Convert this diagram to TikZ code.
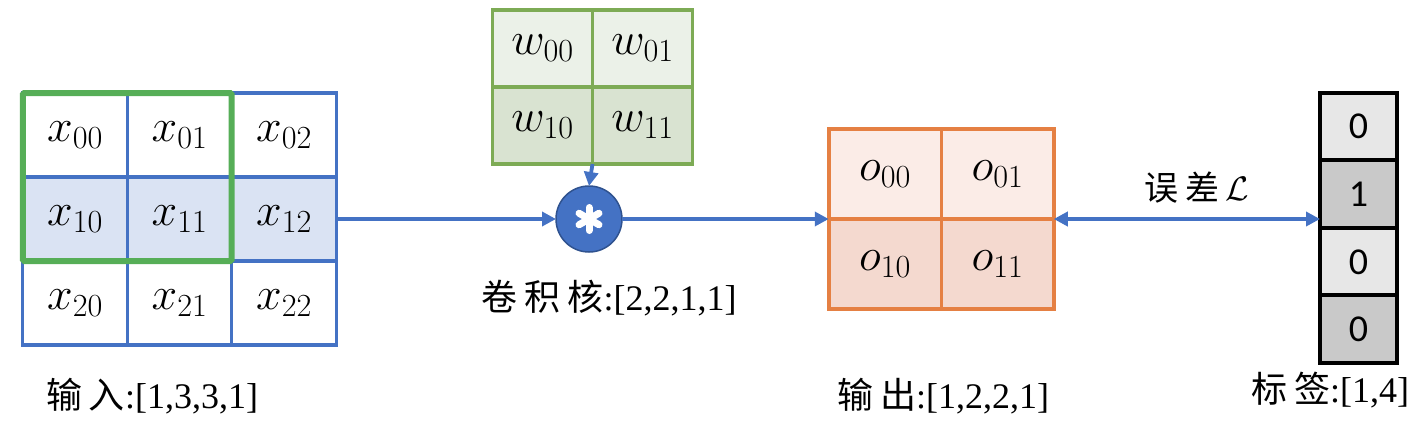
\RequirePackage{fix-cm}
\documentclass[tikz,border=0pt]{standalone}
\usepackage[no-math]{fontspec}
\setmainfont{Liberation Serif}
\newfontfamily\cjk{Noto Sans CJK SC}
\newfontfamily\carlito{Carlito}
\usetikzlibrary{arrows.meta}
\definecolor{inblue}{HTML}{4472C4}
\definecolor{infill}{HTML}{DAE3F3}
\definecolor{wingreen}{HTML}{56AE57}
\definecolor{kgreen}{HTML}{7DAB55}
\definecolor{kfillA}{HTML}{EBF1E8}
\definecolor{kfillB}{HTML}{D9E3D1}
\definecolor{orng}{HTML}{E58043}
\definecolor{ofillA}{HTML}{FBECE7}
\definecolor{ofillB}{HTML}{F4D9CF}
\definecolor{lgA}{HTML}{E7E7E7}
\definecolor{lgB}{HTML}{C9C9C9}
\definecolor{circborder}{HTML}{2F528F}
\newcommand{\cjkgap}{\hspace{7pt}}
\begin{document}
\begin{tikzpicture}[x=1pt,y=-1pt,
  mathfont/.style={font=\fontsize{46}{50}\selectfont},
  incell/.style={draw=inblue, line width=3.2pt, minimum width=104.3pt, minimum height=84pt, inner sep=0pt, outer sep=0pt, mathfont},
  kcell/.style={draw=kgreen, line width=3.5pt, minimum width=100pt, minimum height=77pt, inner sep=0pt, outer sep=0pt, mathfont},
  ocell/.style={draw=orng, line width=3.5pt, minimum width=112.5pt, minimum height=90pt, inner sep=0pt, outer sep=0pt, mathfont},
  lcell/.style={draw=black, line width=4pt, minimum width=77pt, minimum height=67.3pt, inner sep=0pt, outer sep=0pt, font=\carlito\fontsize{38}{40}\selectfont},
  caption/.style={inner sep=0pt, font=\fontsize{36}{40}\selectfont},
  conn/.style={draw=inblue, line width=3.8pt},
  tip/.style={-{Triangle[length=14pt,width=14pt]}},
]
\useasboundingbox (0,0) rectangle (1424,424);

% input grid
\node[incell] (x00) at (75,135) {$x_{00}$};
\node[incell] (x01) at (179.5,135) {$x_{01}$};
\node[incell] (x02) at (284,135) {$x_{02}$};
\node[incell, fill=infill] (x10) at (75,219) {$x_{10}$};
\node[incell, fill=infill] (x11) at (179.5,219) {$x_{11}$};
\node[incell, fill=infill] (x12) at (284,219) {$x_{12}$};
\node[incell] (x20) at (75,303) {$x_{20}$};
\node[incell] (x21) at (179.5,303) {$x_{21}$};
\node[incell] (x22) at (284,303) {$x_{22}$};
\draw[wingreen, line width=6pt, rounded corners=1.5pt] (x00.north west) rectangle (x11.south east);

% kernel
\node[kcell, fill=kfillA] (w00) at (542.5,48.5) {$w_{00}$};
\node[kcell, fill=kfillA] (w01) at (642.5,48.5) {$w_{01}$};
\node[kcell, fill=kfillB] (w10) at (542.5,125.5) {$w_{10}$};
\node[kcell, fill=kfillB] (w11) at (642.5,125.5) {$w_{11}$};

% convolution operator
\node[circle, draw=circborder, fill=inblue, line width=1.5pt, minimum size=66pt, inner sep=0pt, outer sep=0pt] (conv) at (589,219) {};
\foreach \a in {90,30,-30}
  \draw[white, line width=7pt, line cap=round] (conv.center) ++(\a:11.5) -- ++(\a+180:23);

% output
\node[ocell, fill=ofillA] (o00) at (885,174) {$o_{00}$};
\node[ocell, fill=ofillA] (o01) at (997.5,174) {$o_{01}$};
\node[ocell, fill=ofillB] (o10) at (885,264) {$o_{10}$};
\node[ocell, fill=ofillB] (o11) at (997.5,264) {$o_{11}$};

% label vector
\node[lcell, fill=lgA] (l0) at (1358.5,126.5) {0};
\node[lcell, fill=lgB] (l1) at (1358.5,194) {1};
\node[lcell, fill=lgA] (l2) at (1358.5,262) {0};
\node[lcell, fill=lgB] (l3) at (1358.5,329) {0};

% connectors
\draw[conn, tip] (x12.east) -- (conv.west);
\draw[conn, tip] (w10.south east) -- (conv.north);
\draw[conn, tip] (conv.east) -- (conv.east -| o10.west);
\draw[conn, {Triangle[length=14pt,width=14pt]}-{Triangle[length=14pt,width=14pt]}] (o11.north east) -- (o11.north east -| l1.west);

% captions
\node[caption] (capin) at (152,396) {{\cjk 输\cjkgap 入}:[1,3,3,1]};
\node[caption] (capk) at (609,298) {{\cjk 卷\cjkgap 积\cjkgap 核}:[2,2,1,1]};
\node[caption] (capout) at (943,396) {{\cjk 输\cjkgap 出}:[1,2,2,1]};
\node[caption] (caplab) at (1330,390) {{\cjk 标\cjkgap 签}:[1,4]};
\node[caption, font=\fontsize{34}{38}\selectfont] (loss) at (1197,188) {{\cjk 误\cjkgap 差}\,$\mathcal{L}$};
\end{tikzpicture}
\end{document}
